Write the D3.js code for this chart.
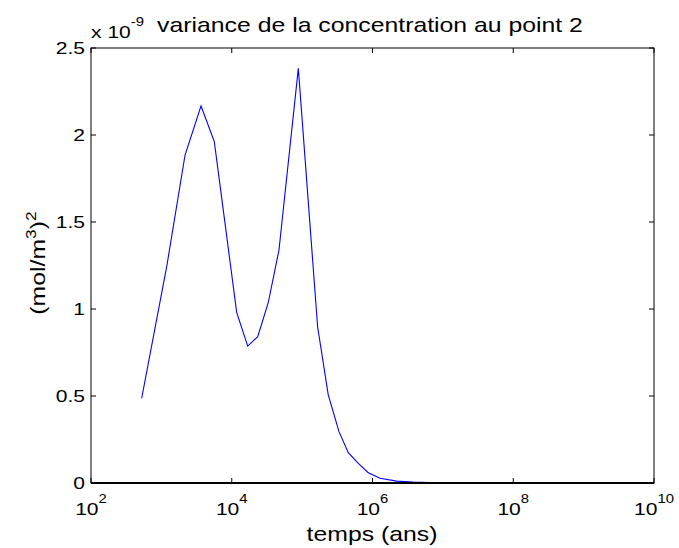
<!DOCTYPE html>
<html>
<head>
<meta charset="utf-8">
<script src="https://cdn.jsdelivr.net/npm/d3@7"></script>
<style>
  html, body { margin: 0; padding: 0; background: #fff; }
  svg { display: block; font-family: "Liberation Sans", Arial, sans-serif; }
</style>
</head>
<body>
<svg id="chart" width="679" height="548"></svg>
<script>
// time in years
const times = [525, 1190, 2170, 3660, 5650, 11750, 16850, 23400, 33000, 46900, 88300,
  166000, 235000, 334000, 453000, 629000, 871000, 1.28e6, 2.21e6, 3.76e6, 6.56e6,
  1.5e7, 5e7, 2e8, 1e9, 1e10];
// variance (x 1e-9) (mol/m3)^2
const variance = [0.487, 1.243, 1.885, 2.167, 1.962, 0.981, 0.787, 0.841, 1.036, 1.339, 2.383,
  0.898, 0.506, 0.295, 0.174, 0.113, 0.059, 0.027, 0.011, 0.005, 0.002,
  0.0005, 0, 0, 0, 0];
const xTicks = [1e2, 1e4, 1e6, 1e8, 1e10];
const xTickExp = ["2", "4", "6", "8", "10"];
const yTicks = [0, 0.5, 1, 1.5, 2, 2.5];
const yTickLabels = ["0", "0.5", "1", "1.5", "2", "2.5"];

const svg = d3.select("#chart");
const L = 91, R = 654, T = 48, B = 483;
const SX = 1.24; // horizontal stretch of the reference's text
const x = d3.scaleLog().domain([1e2, 1e10]).range([L, R]);
const y = d3.scaleLinear().domain([0, 2.5]).range([B, T]);

const data = times.map((t, i) => ({t, v: variance[i]}));

function txt(px, py, size, anchor, rot) {
  return svg.append("text")
    .attr("transform", `translate(${px},${py})` + (rot ? ` rotate(${rot})` : "") + ` scale(${SX},1)`)
    .attr("font-size", size).attr("text-anchor", anchor);
}

// line
svg.append("path")
  .datum(data)
  .attr("fill", "none")
  .attr("stroke", "#0000ff")
  .attr("stroke-width", 1.1)
  .attr("d", d3.line().x(d => x(d.t)).y(d => y(d.v)));

// box
svg.append("rect")
  .attr("x", L).attr("y", T).attr("width", R - L).attr("height", B - T)
  .attr("fill", "none").attr("stroke", "#000").attr("stroke-width", 1);
svg.append("line").attr("x1", L).attr("x2", R).attr("y1", B).attr("y2", B)
  .attr("stroke", "#000").attr("stroke-width", 2);

const tl = 5;
// x ticks
xTicks.forEach((t, i) => {
  const px = x(t);
  svg.append("line").attr("x1", px).attr("x2", px).attr("y1", B).attr("y2", B - tl).attr("stroke", "#000");
  svg.append("line").attr("x1", px).attr("x2", px).attr("y1", T).attr("y2", T + tl).attr("stroke", "#000");
  const g = txt(px, 515, 17, "middle");
  g.append("tspan").text("10");
  g.append("tspan").attr("dy", -12).attr("font-size", 12).text(xTickExp[i]);
});
// y ticks
yTicks.forEach((v, i) => {
  const py = y(v);
  svg.append("line").attr("x1", L).attr("x2", L + tl).attr("y1", py).attr("y2", py).attr("stroke", "#000");
  svg.append("line").attr("x1", R).attr("x2", R - tl).attr("y1", py).attr("y2", py).attr("stroke", "#000");
  txt(85, py + 6, 17, "end").text(yTickLabels[i]);
});

// exponent multiplier
const m = txt(91, 38, 17, "start");
m.append("tspan").text("x 10");
m.append("tspan").attr("dy", -12).attr("font-size", 12).text("-9");

// title
txt(370, 32, 20, "middle").text("variance de la concentration au point 2");

// x label
txt(372, 541, 20, "middle").text("temps (ans)");

// y label
const yl = txt(45, 263, 20, "middle", -90);
yl.append("tspan").text("(mol/m");
yl.append("tspan").attr("dy", -9).attr("font-size", 14).text("3");
yl.append("tspan").attr("dy", 9).text(")");
yl.append("tspan").attr("dy", -9).attr("font-size", 14).text("2");
</script>
</body>
</html>
